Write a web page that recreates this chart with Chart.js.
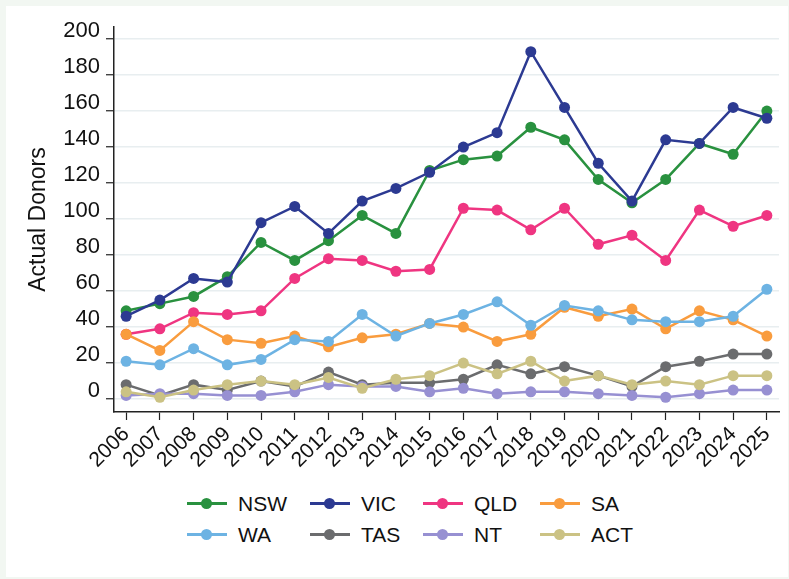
<!DOCTYPE html>
<html>
<head>
<meta charset="utf-8">
<script src="https://cdn.jsdelivr.net/npm/chart.js@4"></script>
<style>
  body { margin: 0; background: #f2f7f2; font-family: "Liberation Sans", Arial, sans-serif; }
  .painel { position: absolute; left: 6px; top: 6px; width: 782px; height: 571px; background: #fff; }
  #grafico { position: absolute; left: 0; top: 0; }
  .legenda { position: absolute; left: 0; top: 0; }
  .item { position: absolute; height: 24px; font-size: 21px; color: #111; line-height: 24px; }
  .item .linha { position: absolute; left: 0; top: 10px; width: 40px; height: 3px; }
  .item .ponto { position: absolute; left: 14px; top: 6px; width: 11px; height: 11px; border-radius: 50%; }
  .item span { position: absolute; left: 51px; top: 0; white-space: nowrap; }
</style>
</head>
<body>
<div class="painel"></div>
<canvas id="grafico" width="789" height="470"></canvas>
<div class="legenda" id="legenda"></div>
<script>
var anos = ['2006', '2007', '2008', '2009', '2010', '2011', '2012', '2013', '2014', '2015',
            '2016', '2017', '2018', '2019', '2020', '2021', '2022', '2023', '2024', '2025'];
var ticksY = [0, 20, 40, 60, 80, 100, 120, 140, 160, 180, 200];

var nsw = [49, 53, 57, 68, 87, 77, 88, 102, 92, 127, 133, 135, 151, 144, 122, 109, 122, 142, 136, 160];
var vic = [46, 55, 67, 65, 98, 107, 92, 110, 117, 126, 140, 148, 193, 162, 131, 110, 144, 142, 162, 156];
var qld = [36, 39, 48, 47, 49, 67, 78, 77, 71, 72, 106, 105, 94, 106, 86, 91, 77, 105, 96, 102];
var sa  = [36, 27, 43, 33, 31, 35, 29, 34, 36, 42, 40, 32, 36, 51, 46, 50, 39, 49, 44, 35];
var wa  = [21, 19, 28, 19, 22, 33, 32, 47, 35, 42, 47, 54, 41, 52, 49, 44, 43, 43, 46, 61];
var tas = [8, 2, 8, 5, 10, 7, 15, 8, 9, 9, 11, 19, 14, 18, 13, 7, 18, 21, 25, 25];
var nt  = [2, 3, 3, 2, 2, 4, 8, 7, 7, 4, 6, 3, 4, 4, 3, 2, 1, 3, 5, 5];
var act = [4, 1, 5, 8, 10, 8, 12, 6, 11, 13, 20, 14, 21, 10, 13, 8, 10, 8, 13, 13];

var estados = ['NSW', 'VIC', 'QLD', 'SA', 'WA', 'TAS', 'NT', 'ACT'];
var series = [nsw, vic, qld, sa, wa, tas, nt, act];
var cores = ['#29913f', '#2c3a92', '#ef3581', '#f99c3e', '#6db3e3', '#6b6c6e', '#9790d2', '#cbc284'];

function MontarPontos(valores) {
    var pontos = [];
    var indice = 0;
    while (indice < valores.length) {
        pontos.push({ x: indice, y: valores[indice] });
        indice++;
    }
    return pontos;
}

var datasets = [];
for (var i = 0; i < estados.length; i++) {
    datasets.push({
        label: estados[i],
        data: MontarPontos(series[i]),
        borderColor: cores[i],
        backgroundColor: cores[i],
        borderWidth: 2.5,
        pointRadius: 5.5,
        pointBorderWidth: 0,
        pointBackgroundColor: cores[i],
        // ultimo estado fica por cima
        order: estados.length - i,
        clip: false
    });
}

new Chart(document.getElementById('grafico'), {
    type: 'line',
    data: { datasets: datasets },
    options: {
        responsive: false,
        animation: false,
        layout: { padding: { top: 27, right: 10, left: 0, bottom: 0 } },
        plugins: { legend: { display: false }, tooltip: { enabled: false } },
        scales: {
            x: {
                type: 'linear',
                min: -0.36,
                max: anos.length - 1 + 0.36,
                afterFit: function (s) { s.height = 58; },
                afterBuildTicks: function (s) {
                    s.ticks = anos.map(function (a, i) { return { value: i }; });
                },
                grid: { drawOnChartArea: false, tickLength: 8, tickColor: '#222', tickWidth: 1.2 },
                border: { color: '#222', width: 1.5 },
                ticks: {
                    autoSkip: false,
                    maxRotation: 45, minRotation: 45, padding: 2,
                    color: '#111',
                    font: { family: '"Liberation Sans", Arial', size: 21 },
                    callback: function (v) { return anos[v]; }
                }
            },
            y: {
                min: -7.2,
                max: 206.7,
                afterFit: function (s) { s.width = 114; },
                afterBuildTicks: function (s) {
                    s.ticks = ticksY.map(function (v) { return { value: v }; });
                },
                grid: { color: '#e8eef0', lineWidth: 1.5, tickLength: 8, tickColor: '#222', tickWidth: 1.2 },
                border: { color: '#222', width: 1.5 },
                ticks: {
                    autoSkip: false,
                    padding: 6,
                    labelOffset: -8,
                    color: '#111',
                    font: { family: '"Liberation Sans", Arial', size: 22 }
                },
                title: {
                    display: true,
                    text: 'Actual Donors',
                    color: '#111',
                    padding: { top: 25, bottom: 0 },
                    font: { family: '"Liberation Sans", Arial', size: 23 }
                }
            }
        }
    }
});

// legenda em grade, igual ao original
var colunasX = [187, 310, 423, 540];
var linhasY = [492, 523];
var legenda = document.getElementById('legenda');
for (var k = 0; k < estados.length; k++) {
    var item = document.createElement('div');
    item.className = 'item';
    item.style.left = colunasX[k % 4] + 'px';
    item.style.top = linhasY[Math.floor(k / 4)] + 'px';
    item.innerHTML = '<div class="linha" style="background:' + cores[k] + '"></div>' +
        '<div class="ponto" style="background:' + cores[k] + '"></div>' +
        '<span>' + estados[k] + '</span>';
    legenda.appendChild(item);
}
</script>
</body>
</html>
